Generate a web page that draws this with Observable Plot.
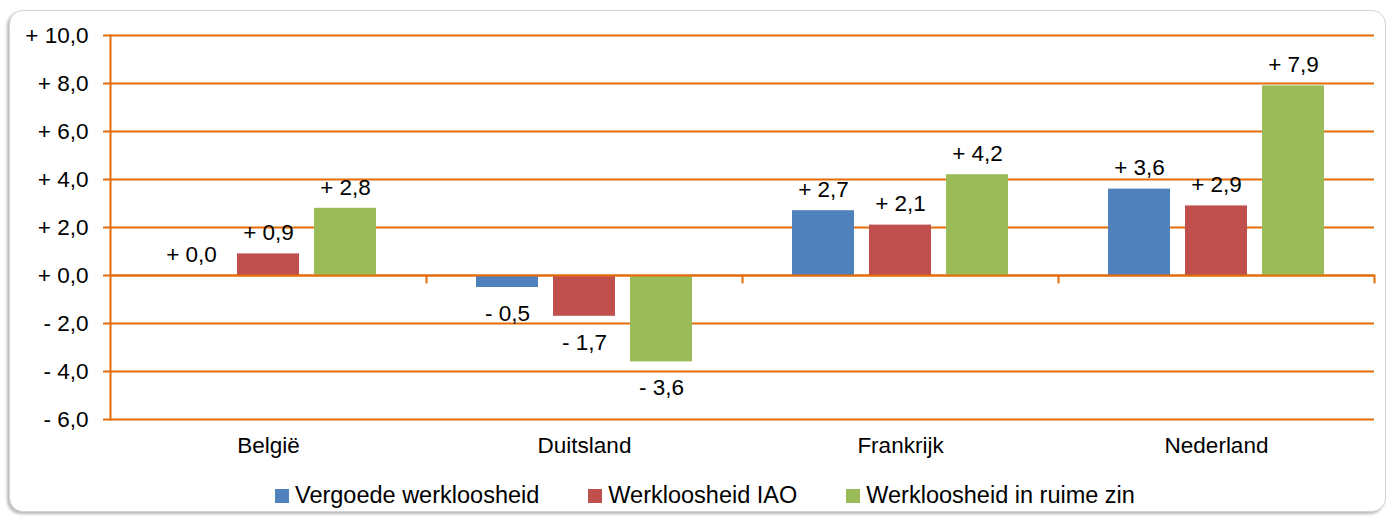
<!DOCTYPE html>
<html>
<head>
<meta charset="utf-8">
<script src="https://cdn.jsdelivr.net/npm/d3@7"></script>
<script src="https://cdn.jsdelivr.net/npm/@observablehq/plot@0.6"></script>
<style>
  html, body { margin: 0; padding: 0; background: #fff; }
  #wrap { position: relative; width: 1391px; height: 517px; overflow: hidden; font-family: "Liberation Sans", Arial, sans-serif; }
  #frame { position: absolute; left: 9px; top: 10px; width: 1375px; height: 500px; border: 1px solid #d4d4d4; border-radius: 14px; box-shadow: -2px 2px 3px rgba(0,0,0,0.28); background: #fff; }
  #chart { position: absolute; left: 0; top: 0; }
  #legend { position: absolute; left: 275px; top: 482px; display: flex; align-items: center; font-size: 23.5px; color: #000; white-space: nowrap; }
  .item { display: flex; align-items: center; margin-right: 49px; }
  .sw { width: 14px; height: 14px; margin-right: 6px; }
</style>
</head>
<body>
<div id="wrap">
  <div id="frame"></div>
  <div id="chart"></div>
  <div id="legend"></div>
</div>
<script>
const categories = ["België", "Duitsland", "Frankrijk", "Nederland"];
const series = ["Vergoede werkloosheid", "Werkloosheid IAO", "Werkloosheid in ruime zin"];
const vergoede = [0.0, -0.5, 2.7, 3.6];
const iao = [0.9, -1.7, 2.1, 2.9];
const ruime = [2.8, -3.6, 4.2, 7.9];
const yTicks = [-6, -4, -2, 0, 2, 4, 6, 8, 10];
const colors = ["#4F81BD", "#C0504D", "#9BBB59"];
const orange = "#E46C0A";

const values = [vergoede, iao, ruime];
const data = categories.flatMap((c, i) => series.map((s, j) => ({category: c, series: s, value: values[j][i]})));

const fmt = v => (v < 0 ? "- " : "+ ") + Math.abs(v).toFixed(1).replace(".", ",");

const W = 1391, H = 470, mt = 35, mb = 51, ml = 110, mr = 17;
const yMin = -6, yMax = 10;
const plotH = H - mt - mb;
const zeroOff = plotH * (yMax - 0) / (yMax - yMin);
const font = 22.5;

const chart = Plot.plot({
  width: W,
  height: H,
  marginTop: mt,
  marginBottom: mb,
  marginLeft: ml,
  marginRight: mr,
  style: {fontFamily: "'Liberation Sans', Arial, sans-serif", background: "transparent", color: "#000"},
  fx: {domain: categories, padding: 0, label: null},
  x: {domain: series, paddingInner: 0.192, paddingOuter: 0.622, axis: null},
  y: {domain: [yMin, yMax], label: null},
  color: {domain: series, range: colors},
  marks: [
    Plot.ruleY(yTicks, {stroke: orange, strokeWidth: 1.8}),
    Plot.barY(data, {fx: "category", x: "series", y: "value", fill: "series"}),
    Plot.frame({anchor: "left", stroke: orange, strokeWidth: 2, facetAnchor: "left"}),
    Plot.frame({anchor: "right", stroke: orange, strokeWidth: 2, insetTop: zeroOff, insetBottom: plotH - zeroOff - 7}),
    Plot.ruleY([0], {stroke: orange, strokeWidth: 2}),
    Plot.axisY({ticks: yTicks, tickSize: 7, tickPadding: 15, tickFormat: fmt, stroke: orange, strokeWidth: 2, fill: "#000", fontSize: font, label: null}),
    Plot.axisFx({anchor: "bottom", tickSize: 0, tickPadding: 18, fontSize: font, label: null, fill: "#000"}),
    Plot.text(data.filter(d => d.value >= 0), {fx: "category", x: "series", y: "value", text: d => fmt(d.value), dy: -21, fontSize: font, fill: "#000"}),
    Plot.text(data.filter(d => d.value < 0), {fx: "category", x: "series", y: "value", text: d => fmt(d.value), dy: 26, fontSize: font, fill: "#000"})
  ]
});
document.getElementById("chart").appendChild(chart);

const legend = document.getElementById("legend");
series.forEach((s, i) => {
  const item = document.createElement("div");
  item.className = "item";
  const sw = document.createElement("span");
  sw.className = "sw";
  sw.style.background = colors[i];
  const t = document.createElement("span");
  t.textContent = s;
  item.appendChild(sw);
  item.appendChild(t);
  legend.appendChild(item);
});
</script>
</body>
</html>
